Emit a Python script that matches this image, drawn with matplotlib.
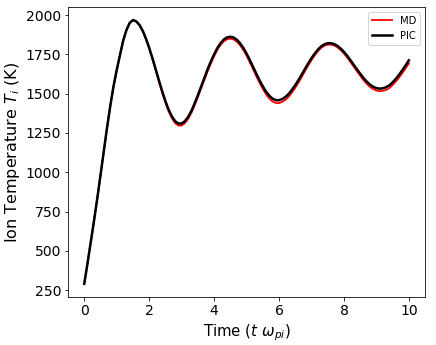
import numpy as np
import matplotlib
matplotlib.use("Agg")
import matplotlib.pyplot as plt

# time in units of 1/omega_pi
t = [0.0, 0.1, 0.2, 0.3, 0.4, 0.5, 0.6, 0.7, 0.8, 0.9,
     1.0, 1.1, 1.2, 1.3, 1.4, 1.5, 1.6, 1.7, 1.8, 1.9,
     2.0, 2.1, 2.2, 2.3, 2.4, 2.5, 2.6, 2.7, 2.8, 2.9,
     3.0, 3.1, 3.2, 3.3, 3.4, 3.5, 3.6, 3.7, 3.8, 3.9,
     4.0, 4.1, 4.2, 4.3, 4.4, 4.5, 4.6, 4.7, 4.8, 4.9,
     5.0, 5.1, 5.2, 5.3, 5.4, 5.5, 5.6, 5.7, 5.8, 5.9,
     6.0, 6.1, 6.2, 6.3, 6.4, 6.5, 6.6, 6.7, 6.8, 6.9,
     7.0, 7.1, 7.2, 7.3, 7.4, 7.5, 7.6, 7.7, 7.8, 7.9,
     8.0, 8.1, 8.2, 8.3, 8.4, 8.5, 8.6, 8.7, 8.8, 8.9,
     9.0, 9.1, 9.2, 9.3, 9.4, 9.5, 9.6, 9.7, 9.8, 9.9,
     10.0]

# ion temperature (K), molecular dynamics
T_md = [290, 420, 555, 690, 832, 980, 1130, 1280, 1420, 1545,
        1650, 1745, 1838, 1905, 1950, 1968, 1959, 1936, 1898, 1847,
        1787, 1720, 1649, 1577, 1507, 1443, 1387, 1343, 1312, 1297,
        1297, 1312, 1339, 1377, 1425, 1477, 1532, 1587, 1642, 1692,
        1737, 1778, 1810, 1833, 1846, 1850, 1845, 1831, 1808, 1778,
        1741, 1699, 1656, 1611, 1569, 1530, 1496, 1469, 1450, 1441,
        1440, 1448, 1461, 1481, 1507, 1537, 1570, 1606, 1643, 1679,
        1713, 1743, 1770, 1791, 1805, 1812, 1812, 1806, 1794, 1777,
        1755, 1730, 1701, 1672, 1642, 1614, 1586, 1563, 1543, 1529,
        1520, 1516, 1518, 1524, 1536, 1555, 1577, 1603, 1631, 1661,
        1692]

# ion temperature (K), particle-in-cell
T_pic = [290, 420, 555, 690, 832, 980, 1130, 1280, 1420, 1545,
         1650, 1745, 1838, 1905, 1950, 1968, 1960, 1938, 1901, 1851,
         1792, 1726, 1656, 1585, 1516, 1453, 1398, 1355, 1325, 1310,
         1310, 1325, 1352, 1390, 1438, 1490, 1545, 1600, 1655, 1705,
         1750, 1790, 1822, 1845, 1858, 1862, 1857, 1843, 1821, 1791,
         1755, 1714, 1671, 1627, 1585, 1547, 1513, 1487, 1468, 1459,
         1458, 1466, 1479, 1499, 1525, 1554, 1587, 1622, 1658, 1693,
         1726, 1755, 1781, 1801, 1814, 1821, 1821, 1815, 1804, 1787,
         1766, 1741, 1713, 1684, 1655, 1627, 1600, 1577, 1558, 1544,
         1535, 1532, 1534, 1541, 1553, 1572, 1595, 1621, 1650, 1680,
         1712]

plt.figure(figsize=(436 / 72, 345 / 72), dpi=72)
ax = plt.axes([0.156, 0.139, 0.819, 0.841])
ax.plot(t, T_md, color="red", lw=1.8, label="MD")
ax.plot(t, T_pic, color="black", lw=2.5, label="PIC")
ax.set_xlabel(r"Time ($t\ \omega_{pi}$)", fontsize=15)
ax.set_ylabel(r"Ion Temperature $T_i$ (K)", fontsize=16)
ax.tick_params(labelsize=14)
ax.legend(loc="upper right", fontsize=10)
plt.savefig("out.png", dpi=72)
